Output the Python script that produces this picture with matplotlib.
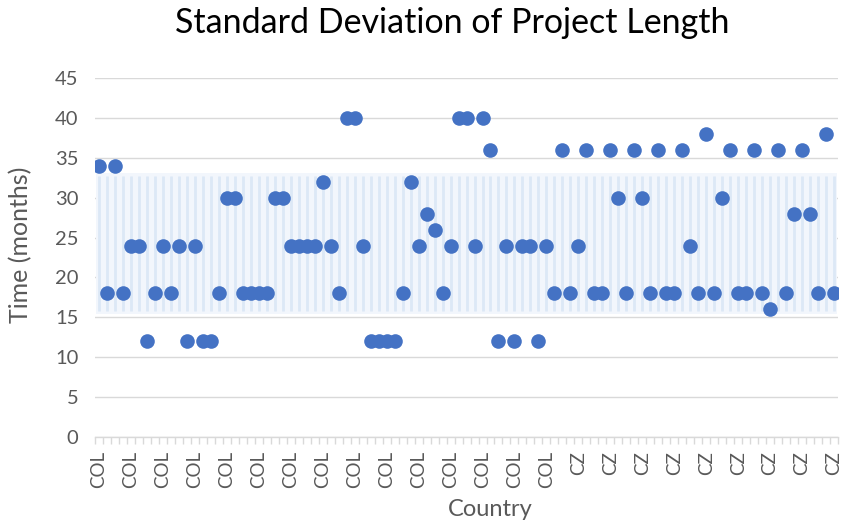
import numpy as np
import matplotlib
matplotlib.use("Agg")
import matplotlib.pyplot as plt

values = [34, 18, 34, 18, 24, 24, 12, 18, 24, 18,
          24, 12, 24, 12, 12, 18, 30, 30, 18, 18,
          18, 18, 30, 30, 24, 24, 24, 24, 32, 24,
          18, 40, 40, 24, 12, 12, 12, 12, 18, 32,
          24, 28, 26, 18, 24, 40, 40, 24, 40, 36,
          12, 24, 12, 24, 24, 12, 24, 18, 36, 18,
          24, 36, 18, 18, 36, 30, 18, 36, 30, 18,
          36, 18, 18, 36, 24, 18, 38, 18, 30, 36,
          18, 18, 36, 18, 16, 36, 18, 28, 36, 28,
          18, 38, 18]
countries = ["COL"] * 58 + ["CZ"] * 35
label_every = 4

plt.rcParams['font.family'] = ['Lato', 'DejaVu Sans']
gray = '#595959'

fig = plt.figure(figsize=(8.47, 5.21), dpi=100)
ax = fig.add_axes([0.1122, 0.1612, 0.8772, 0.6891])

n = len(values)
x = np.arange(1, n + 1)
y = np.array(values, dtype=float)
mean = y.mean()
sd = y.std(ddof=1)

# glow band behind the error bars
ax.fill_between([x[0] - 0.4, x[-1] + 0.4], mean - sd - 0.4, mean + sd + 0.4,
                color='#f2f6fc', zorder=1, lw=0)
ax.errorbar(x, np.full(n, mean), yerr=sd, fmt='none', ecolor='#dce8f6',
            elinewidth=2.0, capsize=0, zorder=2)
ax.plot(x, y, 'o', color='#4472c4', markersize=10.5, markeredgewidth=0, zorder=4)

ax.set_ylim(0, 45)
ax.set_yticks(np.arange(0, 46, 5))
ax.set_xlim(0.5, n + 0.5)
ax.grid(axis='y', color='#d9d9d9', linewidth=1.0, zorder=0)
ax.set_axisbelow(True)

for s in ['top', 'right', 'left']:
    ax.spines[s].set_visible(False)
ax.spines['bottom'].set_color('#d9d9d9')
ax.spines['bottom'].set_linewidth(1.0)

ticks = x[::label_every]
ax.set_xticks(ticks)
ax.set_xticklabels([countries[i - 1] for i in ticks], rotation=90,
                   fontsize=13.5, color=gray)
ax.set_xticks(np.arange(0.5, n + 1, 1), minor=True)
ax.tick_params(axis='x', which='major', length=0, pad=10)
ax.tick_params(axis='x', which='minor', length=5, color='#d9d9d9', width=1)
ax.tick_params(axis='y', length=0, labelsize=14.5, labelcolor=gray, pad=12)

ax.set_xlabel('Country', fontsize=17, color=gray)
ax.xaxis.set_label_coords(0.532, -0.172)
ax.set_ylabel('Time (months)', fontsize=18, color=gray)
ax.yaxis.set_label_coords(-0.084, 0.535)
fig.text(0.534, 0.955, 'Standard Deviation of Project Length', fontsize=24.5,
         color='black', ha='center', va='center')

fig.savefig('out.png', dpi=100)
